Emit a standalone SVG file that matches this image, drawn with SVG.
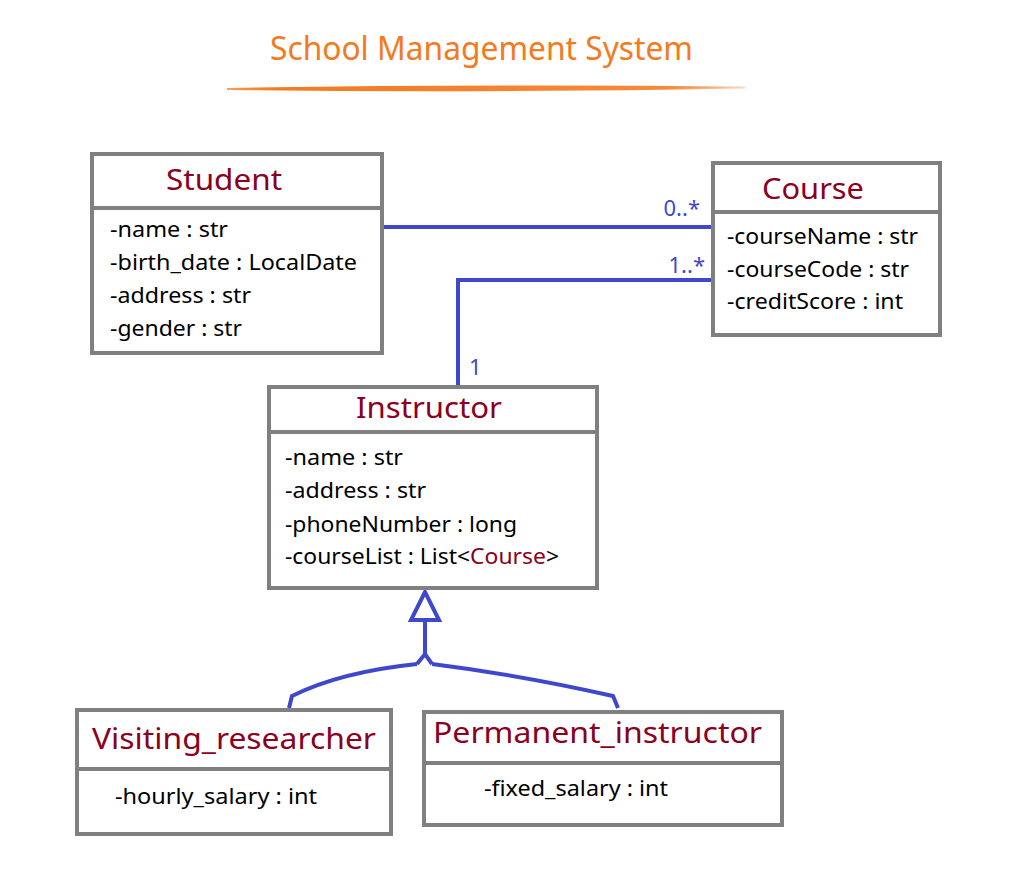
<svg xmlns="http://www.w3.org/2000/svg" width="1013" height="874" viewBox="0 0 1013 874">
<defs>
<style>
.box{fill:#fff;stroke:#808080;stroke-width:4}
.div{stroke:#808080;stroke-width:4}
.t{font-family:"Noto Sans","Open Sans",sans-serif;font-size:29px;fill:#8b0020}
.a{font-family:"Noto Sans","Open Sans",sans-serif;font-size:22px;fill:#000}
.c{fill:none;stroke:#3f48cc;stroke-width:4}
.m{font-family:"Noto Sans","Open Sans",sans-serif;font-size:22px;fill:#3f48cc}
</style>
<linearGradient id="brush" x1="0" x2="1" y1="0" y2="0">
<stop offset="0" stop-color="#f47a20" stop-opacity="0.7"/>
<stop offset="0.1" stop-color="#f47a20"/>
<stop offset="0.85" stop-color="#f58a3a"/>
<stop offset="1" stop-color="#f8b080" stop-opacity="0.5"/>
</linearGradient>
</defs>
<rect width="1013" height="874" fill="#fff"/>
<g id="title">
<text x="270" y="60" textLength="423" lengthAdjust="spacingAndGlyphs" style="font-family:'Noto Sans','Open Sans',sans-serif;font-size:32px;fill:#f47a20">School Management System</text>
<path d="M227,89 Q480,85 745,87.5 Q480,92 227,89 Z" fill="url(#brush)" stroke="url(#brush)" stroke-width="2"/>
</g>
<g id="connectors">
<line class="c" x1="384" y1="227" x2="712" y2="227"/>
<text class="m" x="700" y="216" text-anchor="end">0..*</text>
<polyline class="c" points="712,280 458,280 458,385"/>
<text class="m" x="705" y="273" text-anchor="end">1..*</text>
<text class="m" x="469" y="375">1</text>
<polygon class="c" points="425,592 411,620 439,620" fill="#fff"/>
<line class="c" x1="425" y1="620" x2="425" y2="655"/>
<path class="c" d="M417,664 L425,654 L432,664"/>
<path class="c" d="M417,664 Q340,672 292,696 L289,708"/>
<path class="c" d="M432,664 Q520,675 613,696 L618,708"/>
</g>
<g id="student">
<rect class="box" x="92" y="154" width="290" height="199"/>
<line class="div" x1="92" y1="208" x2="382" y2="208"/>
<text class="t" x="166" y="190" textLength="116" lengthAdjust="spacingAndGlyphs">Student</text>
<text class="a" x="110" y="237" textLength="118" lengthAdjust="spacingAndGlyphs">-name : str</text>
<text class="a" x="110" y="270" textLength="247" lengthAdjust="spacingAndGlyphs">-birth_date : LocalDate</text>
<text class="a" x="110" y="303" textLength="141" lengthAdjust="spacingAndGlyphs">-address : str</text>
<text class="a" x="110" y="336" textLength="132" lengthAdjust="spacingAndGlyphs">-gender : str</text>
</g>
<g id="course">
<rect class="box" x="713" y="163" width="227" height="172"/>
<line class="div" x1="713" y1="212" x2="940" y2="212"/>
<text class="t" x="762" y="199" textLength="102" lengthAdjust="spacingAndGlyphs">Course</text>
<text class="a" x="727" y="244" textLength="191" lengthAdjust="spacingAndGlyphs">-courseName : str</text>
<text class="a" x="727" y="277" textLength="182" lengthAdjust="spacingAndGlyphs">-courseCode : str</text>
<text class="a" x="727" y="309" textLength="176" lengthAdjust="spacingAndGlyphs">-creditScore : int</text>
</g>
<g id="instructor">
<rect class="box" x="269" y="387" width="328" height="201"/>
<line class="div" x1="269" y1="432" x2="597" y2="432"/>
<text class="t" x="356" y="418" textLength="146" lengthAdjust="spacingAndGlyphs">Instructor</text>
<text class="a" x="285" y="465" textLength="118" lengthAdjust="spacingAndGlyphs">-name : str</text>
<text class="a" x="285" y="498" textLength="141" lengthAdjust="spacingAndGlyphs">-address : str</text>
<text class="a" x="285" y="532" textLength="232" lengthAdjust="spacingAndGlyphs">-phoneNumber : long</text>
<text class="a" x="285" y="564" textLength="274" lengthAdjust="spacingAndGlyphs">-courseList : List&lt;<tspan fill="#8b0020">Course</tspan>&gt;</text>
</g>
<g id="visiting_researcher">
<rect class="box" x="77" y="710" width="314" height="124"/>
<line class="div" x1="77" y1="769" x2="391" y2="769"/>
<text class="t" x="92" y="749" textLength="284" lengthAdjust="spacingAndGlyphs">Visiting_researcher</text>
<text class="a" x="115" y="804" textLength="202" lengthAdjust="spacingAndGlyphs">-hourly_salary : int</text>
</g>
<g id="permanent_instructor">
<rect class="box" x="424" y="712" width="358" height="113"/>
<line class="div" x1="424" y1="763" x2="782" y2="763"/>
<text class="t" x="433" y="743" textLength="329" lengthAdjust="spacingAndGlyphs">Permanent_instructor</text>
<text class="a" x="484" y="796" textLength="184" lengthAdjust="spacingAndGlyphs">-fixed_salary : int</text>
</g>
</svg>
